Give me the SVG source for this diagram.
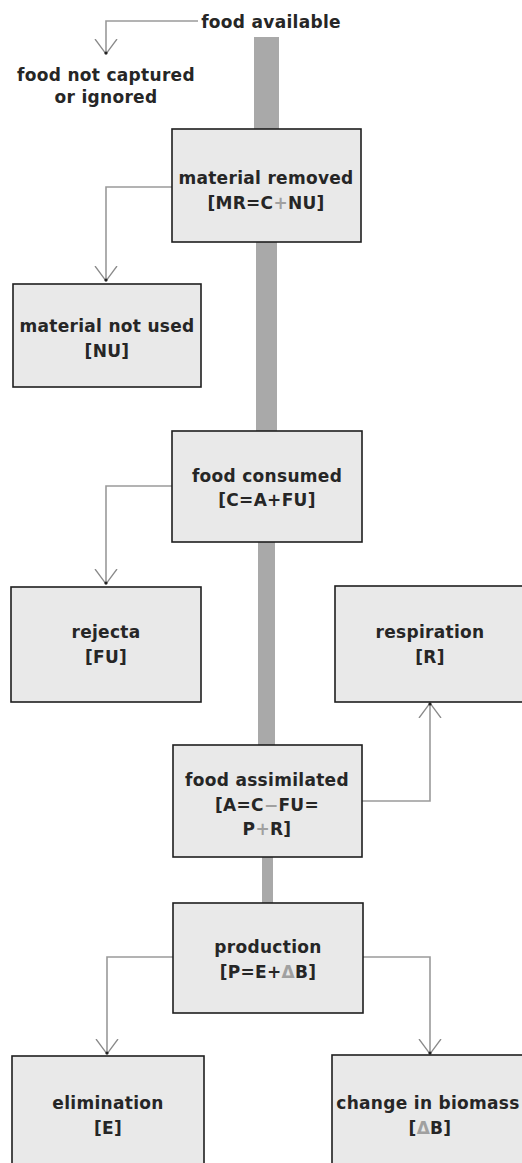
<svg xmlns="http://www.w3.org/2000/svg" width="522" height="1163" viewBox="0 0 522 1163">
<style>
text{font-family:"DejaVu Sans","Liberation Sans",sans-serif;font-weight:bold;font-size:17px;letter-spacing:0.3px;fill:#262626;text-anchor:middle}
.box{fill:#e9e9e9;stroke:#1e1e1e;stroke-width:1.6}
.bar{fill:#a9a9a9}
.conn{fill:none;stroke:#9a9a9a;stroke-width:1.6}
.lt{fill:#a0a0a0}
</style>
<defs>
<marker id="arr" markerUnits="userSpaceOnUse" markerWidth="30" markerHeight="30" refX="15" refY="15" orient="auto" viewBox="0 0 30 30">
<path d="M0,4 L15,15 L0,26" fill="none" stroke="#8a8a8a" stroke-width="1.3"/>
<circle cx="14" cy="15" r="1.6" fill="#222"/>
</marker>
</defs>
<g id="flow">
<rect class="bar" x="254" y="37" width="25" height="92"/>
<rect class="bar" x="256" y="242" width="21" height="189"/>
<rect class="bar" x="258" y="542" width="17" height="203"/>
<rect class="bar" x="262" y="857" width="11" height="46"/>
</g>
<g id="connectors">
<path class="conn" d="M198,21 H106 V54" marker-end="url(#arr)"/>
<path class="conn" d="M172,187 H106 V281" marker-end="url(#arr)"/>
<path class="conn" d="M172,486 H106 V584" marker-end="url(#arr)"/>
<path class="conn" d="M362,801 H430 V703" marker-end="url(#arr)"/>
<path class="conn" d="M173,957 H107 V1054" marker-end="url(#arr)"/>
<path class="conn" d="M363,957 H430 V1054" marker-end="url(#arr)"/>
</g>
<g id="food-available">
<text x="271" y="28">food available</text>
</g>
<g id="food-not-captured">
<text x="106" y="81">food not captured</text>
<text x="106" y="103">or ignored</text>
</g>
<g id="material-removed">
<rect class="box" x="172" y="129" width="189" height="113"/>
<text x="266" y="184">material removed</text>
<text x="266" y="209">[MR=C<tspan class="lt">+</tspan>NU]</text>
</g>
<g id="material-not-used">
<rect class="box" x="13" y="284" width="188" height="103"/>
<text x="107" y="332">material not used</text>
<text x="107" y="357">[NU]</text>
</g>
<g id="food-consumed">
<rect class="box" x="172" y="431" width="190" height="111"/>
<text x="267" y="482">food consumed</text>
<text x="267" y="506">[C=A+FU]</text>
</g>
<g id="rejecta">
<rect class="box" x="11" y="587" width="190" height="115"/>
<text x="106" y="638">rejecta</text>
<text x="106" y="663">[FU]</text>
</g>
<g id="respiration">
<rect class="box" x="335" y="586" width="195" height="116"/>
<text x="430" y="638">respiration</text>
<text x="430" y="663">[R]</text>
</g>
<g id="food-assimilated">
<rect class="box" x="173" y="745" width="189" height="112"/>
<text x="267" y="786">food assimilated</text>
<text x="267" y="811">[A=C<tspan class="lt">−</tspan>FU=</text>
<text x="267" y="835">P<tspan class="lt">+</tspan>R]</text>
</g>
<g id="production">
<rect class="box" x="173" y="903" width="190" height="110"/>
<text x="268" y="953">production</text>
<text x="268" y="978">[P=E+<tspan class="lt">Δ</tspan>B]</text>
</g>
<g id="elimination">
<rect class="box" x="12" y="1056" width="192" height="120"/>
<text x="108" y="1109">elimination</text>
<text x="108" y="1134">[E]</text>
</g>
<g id="change-in-biomass">
<rect class="box" x="332" y="1055" width="200" height="120"/>
<text x="428" y="1109">change in biomass</text>
<text x="430" y="1134">[<tspan class="lt">Δ</tspan>B]</text>
</g>
</svg>
